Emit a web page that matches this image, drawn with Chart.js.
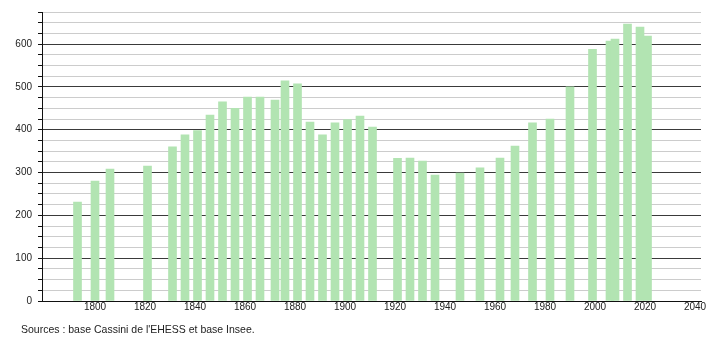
<!DOCTYPE html>
<html>
<head>
<meta charset="utf-8">
<script src="https://cdn.jsdelivr.net/npm/chart.js@4/dist/chart.umd.min.js"></script>
<style>
  html, body { margin: 0; padding: 0; background: #fff; }
  #wrap { position: relative; width: 710px; height: 340px; }
  #popChart { position: absolute; left: 0; top: 0; }
  #caption {
    position: absolute; left: 21px; top: 323px;
    font: 10.5px "Liberation Sans", Arial, sans-serif; color: #222;
  }
</style>
</head>
<body>
<div id="wrap">
  <canvas id="popChart" width="710" height="340"></canvas>
  <div id="caption">Sources : base Cassini de l'EHESS et base Insee.</div>
</div>
<script>
// Population figures
const years = [1793, 1800, 1806, 1821, 1831, 1836, 1841, 1846, 1851, 1856, 1861, 1866, 1872, 1876, 1881, 1886, 1891, 1896, 1901, 1906, 1911, 1921, 1926, 1931, 1936, 1946, 1954, 1962, 1968, 1975, 1982, 1990, 1999, 2006, 2008, 2013, 2018, 2021];
const population = [231, 280, 308, 315, 360, 388, 398, 434, 465, 450, 476, 476, 469, 514, 507, 418, 388, 416, 424, 432, 406, 333, 334, 327, 294, 299, 311, 334, 362, 416, 425, 500, 588, 607, 612, 647, 640, 619];
const xTicks = [1800, 1820, 1840, 1860, 1880, 1900, 1920, 1940, 1960, 1980, 2000, 2020, 2040];
const yMax = 675;

const points = years.map((y, i) => ({ x: y, y: population[i] }));
const font = { family: '"Liberation Sans", Arial, sans-serif', size: 10 };

new Chart(document.getElementById('popChart'), {
  type: 'bar',
  data: {
    datasets: [{
      data: points,
      backgroundColor: 'rgb(178, 228, 178)',
      borderWidth: 0,
      barThickness: 8
    }]
  },
  options: {
    responsive: false,
    animation: false,
    layout: { padding: { left: 0, right: 9, top: 9, bottom: 27 } },
    plugins: { legend: { display: false }, tooltip: { enabled: false } },
    scales: {
      x: {
        type: 'linear',
        offset: false,
        min: 1778.8,
        max: 2042.4,
        afterBuildTicks: scale => { scale.ticks = xTicks.map(v => ({ value: v })); },
        grid: { display: false, drawTicks: false },
        border: { display: true, color: '#111', width: 1 },
        ticks: { color: '#222', font: font, padding: 0, maxRotation: 0, autoSkip: false, callback: v => String(v) }
      },
      y: {
        min: 0,
        max: yMax,
        afterFit: scale => { scale.width = 42; },
        grid: {
          color: ctx => (ctx.tick && ctx.tick.value % 100 === 0) ? '#3a3a3a' : '#cccccc',
          tickColor: '#111',
          tickLength: 4
        },
        border: { display: true, color: '#111', width: 1 },
        ticks: {
          stepSize: 25,
          color: '#222',
          font: font,
          padding: 6,
          autoSkip: false,
          callback: v => v % 100 === 0 ? v : ''
        }
      }
    }
  }
});
</script>
</body>
</html>
